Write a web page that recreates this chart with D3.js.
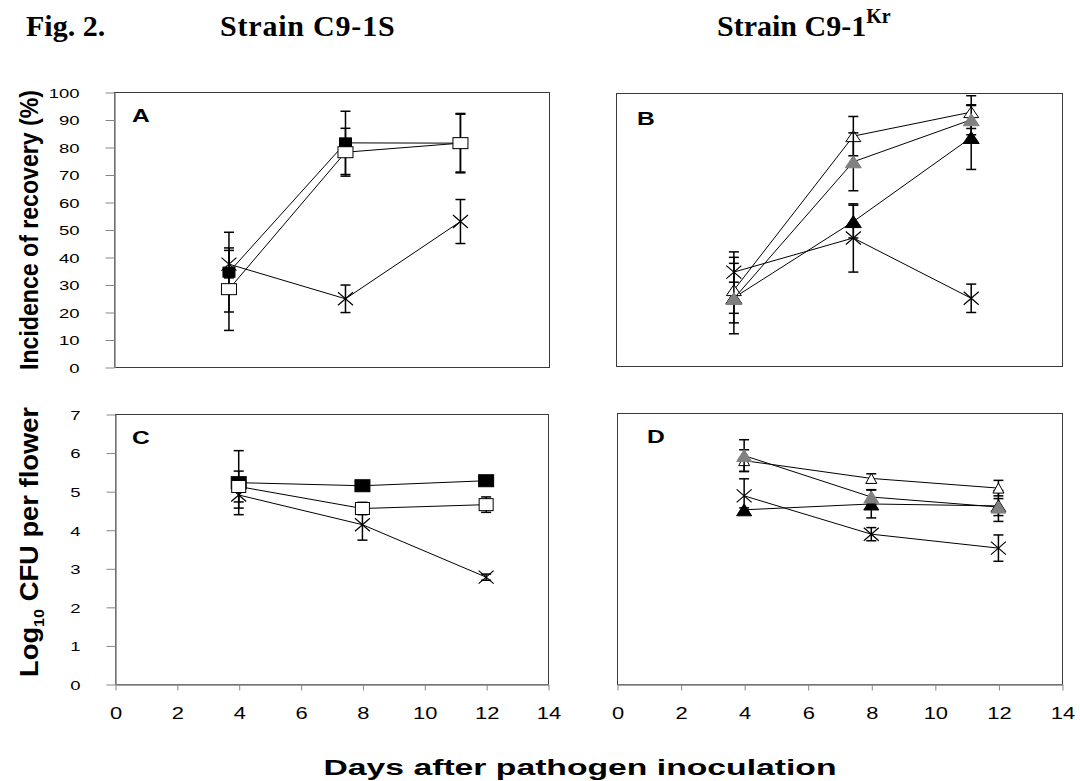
<!DOCTYPE html>
<html>
<head>
<meta charset="utf-8">
<script src="https://cdn.jsdelivr.net/npm/d3@7"></script>
<style>
  body { margin: 0; background: #fff; }
  text { fill: #000; }
</style>
</head>
<body>
<div id="chart"></div>
<script>
// days on the x axis (top panels are plotted slightly left of the sampling days)
const topDays = [3.7, 7.45, 11.15];
const bottomDays = [4, 8, 12];
const xTicks = [0, 2, 4, 6, 8, 10, 12, 14];
const pctTicks = [0, 10, 20, 30, 40, 50, 60, 70, 80, 90, 100];
const cfuTicks = [0, 1, 2, 3, 4, 5, 6, 7];

// Panel A - strain C9-1S, incidence of recovery (%)
const aCross = [37.4, 24.8, 52.9];
const aCrossErr = [5, 5, 8];
const aFilled = [34.5, 81.5, 81.4];
const aFilledErr = [14.5, 11.5, 10.8];
const aOpen = [28.3, 78.1, 81.4];
const aOpenErr = [15, 8.7, 10.5];

// Panel B - strain C9-1Kr, incidence of recovery (%)
const bCross = [34.4, 46.9, 24.8];
const bCrossErr = [7.4, 12.5, 5.2];
const bBlack = [25, 52.9, 83.7];
const bBlackErr = [5.7, 6, 11.7];
const bOpen = [27.8, 84.2, 93];
const bOpenErr = [12, 7.2, 6];
const bGray = [24.7, 74.8, 90.2];
const bGrayErr = [12.9, 10.6, 5.5];

// Panel C - strain C9-1S, log10 CFU per flower
const cCross = [4.9, 4.13, 2.77];
const cCrossErr = [0.34, 0.4, 0.08];
const cFilled = [5.22, 5.14, 5.27];
const cFilledErr = [0.83, 0.05, 0.05];
const cOpen = [5.12, 4.55, 4.65];
const cOpenErr = [0.4, 0.16, 0.2];

// Panel D - strain C9-1Kr, log10 CFU per flower
const dCross = [4.86, 3.87, 3.51];
const dCrossErr = [0.44, 0.17, 0.34];
const dBlack = [4.5, 4.65, 4.6];
const dBlackErr = [0.05, 0.36, 0.4];
const dOpen = [5.77, 5.31, 5.06];
const dOpenErr = [0.28, 0.12, 0.2];
const dGray = [5.9, 4.83, 4.57];
const dGrayErr = [0.41, 0.19, 0.22];

const width = 1080;
const height = 781;
const stretch = 1.37; // the original figure is stretched horizontally
const sans = 'Arial, "Liberation Sans", sans-serif';
const serif = '"Times New Roman", "Liberation Serif", serif';
const axisGray = '#868686';
const frameColor = '#3a3a3a';

const svg = d3.select('#chart').append('svg')
  .attr('width', width)
  .attr('height', height)
  .style('background', '#fff');

// marker shapes
function drawMarker(g, kind, cx, cy, w, h) {
  if (kind === 'cross') {
    g.append('path')
      .attr('d', `M${cx - w / 2},${cy - h / 2}L${cx + w / 2},${cy + h / 2}M${cx - w / 2},${cy + h / 2}L${cx + w / 2},${cy - h / 2}`)
      .attr('stroke', '#000').attr('stroke-width', 1.2).attr('fill', 'none');
  } else if (kind === 'sqFilled' || kind === 'sqOpen') {
    g.append('rect')
      .attr('x', cx - w / 2).attr('y', cy - h / 2)
      .attr('width', w).attr('height', h)
      .attr('fill', kind === 'sqFilled' ? '#000' : '#fff')
      .attr('stroke', '#000').attr('stroke-width', 1);
  } else {
    const fill = { triOpen: '#fff', triGray: '#808080', triBlack: '#000' }[kind];
    g.append('path')
      .attr('d', `M${cx},${cy - h / 2}L${cx + w / 2},${cy + h / 2}L${cx - w / 2},${cy + h / 2}Z`)
      .attr('fill', fill)
      .attr('stroke', kind === 'triGray' ? '#808080' : '#000')
      .attr('stroke-width', 1);
  }
}

function stretchedText(g, str, x, y, size, anchor, weight) {
  return g.append('text')
    .attr('transform', `translate(${x},${y}) scale(${stretch},1)`)
    .attr('text-anchor', anchor)
    .style('font-family', sans)
    .style('font-size', size + 'px')
    .style('font-weight', weight || 'normal')
    .text(str);
}

function drawPanel(cfg) {
  const { letter, letterPos, box, days, yMax, series, leftTicks, bottomTicks } = cfg;
  const x = d3.scaleLinear().domain([0, 14]).range([box.x0, box.x1]);
  const y = d3.scaleLinear().domain([0, yMax]).range([box.y1, box.y0]);
  const g = svg.append('g').attr('class', 'panel-' + letter);

  // frame
  g.append('rect')
    .attr('x', box.x0 + 0.5).attr('y', box.y0 + 0.5)
    .attr('width', box.x1 - box.x0).attr('height', box.y1 - box.y0)
    .attr('fill', 'none').attr('stroke', frameColor).attr('stroke-width', 1);

  if (leftTicks) {
    const ax = g.append('g')
      .attr('transform', `translate(${box.x0 + 0.5},0.5)`)
      .call(d3.axisLeft(y).tickValues(leftTicks).tickFormat(d3.format('d')).tickSize(9).tickSizeOuter(0));
    ax.select('.domain').attr('stroke', axisGray).attr('stroke-width', 1.5);
    ax.selectAll('.tick line').attr('stroke', axisGray);
    ax.selectAll('.tick text')
      .attr('x', 0).attr('dy', '0.36em')
      .attr('transform', `translate(-35,0) scale(${stretch},1)`)
      .attr('fill', '#000')
      .style('font-family', sans).style('font-size', '13.5px');
  }
  if (bottomTicks) {
    const ax = g.append('g')
      .attr('transform', `translate(0.5,${box.y1 + 0.5})`)
      .call(d3.axisBottom(x).tickValues(bottomTicks).tickFormat(d3.format('d')).tickSize(6).tickSizeOuter(0));
    ax.select('.domain').attr('stroke', axisGray).attr('stroke-width', 1.5);
    ax.selectAll('.tick line').attr('stroke', axisGray);
    ax.selectAll('.tick text')
      .attr('y', 0).attr('dy', null)
      .attr('transform', `translate(0,34) scale(${stretch},1)`)
      .attr('fill', '#000')
      .style('font-family', sans).style('font-size', '16px');
  }

  // panel letter
  stretchedText(g, letter, letterPos[0], letterPos[1], 18, 'start', 'bold');

  const line = d3.line().x(p => x(p.d)).y(p => y(p.v));

  series.forEach((s) => {
    const pts = s.values.map((v, i) => ({ d: days[i], v, e: s.err[i] }));
    const sg = g.append('g');
    sg.append('path')
      .attr('d', line(pts))
      .attr('fill', 'none').attr('stroke', '#000').attr('stroke-width', 1);

    pts.forEach((p) => {
      const px = x(p.d);
      const top = y(p.v + p.e);
      const bot = y(p.v - p.e);
      sg.append('line')
        .attr('x1', px).attr('x2', px).attr('y1', top).attr('y2', bot)
        .attr('stroke', '#000').attr('stroke-width', 1.5);
      [top, bot].forEach((yy) => {
        sg.append('line')
          .attr('x1', px - 5).attr('x2', px + 5).attr('y1', yy).attr('y2', yy)
          .attr('stroke', '#000').attr('stroke-width', 1.5);
      });
    });

    pts.forEach((p) => {
      drawMarker(sg, s.kind, x(p.d), y(p.v), s.size[0], s.size[1]);
    });
  });
}

drawPanel({
  letter: 'A',
  letterPos: [132, 122],
  box: { x0: 114, x1: 549, y0: 92, y1: 367 },
  days: topDays,
  yMax: 100,
  leftTicks: pctTicks,
  series: [
    { kind: 'cross', values: aCross, err: aCrossErr, size: [15, 13] },
    { kind: 'sqFilled', values: aFilled, err: aFilledErr, size: [12, 10] },
    { kind: 'sqOpen', values: aOpen, err: aOpenErr, size: [15, 11] },
  ],
});

drawPanel({
  letter: 'B',
  letterPos: [637, 125],
  box: { x0: 616, x1: 1062, y0: 93, y1: 366 },
  days: topDays,
  yMax: 100,
  series: [
    { kind: 'cross', values: bCross, err: bCrossErr, size: [15, 13] },
    { kind: 'triBlack', values: bBlack, err: bBlackErr, size: [16, 12] },
    { kind: 'triOpen', values: bOpen, err: bOpenErr, size: [15, 11] },
    { kind: 'triGray', values: bGray, err: bGrayErr, size: [16, 12] },
  ],
});

drawPanel({
  letter: 'C',
  letterPos: [132, 444],
  box: { x0: 115, x1: 548, y0: 414, y1: 684 },
  days: bottomDays,
  yMax: 7,
  leftTicks: cfuTicks,
  bottomTicks: xTicks,
  series: [
    { kind: 'cross', values: cCross, err: cCrossErr, size: [15, 13] },
    { kind: 'sqFilled', values: cFilled, err: cFilledErr, size: [15, 12] },
    { kind: 'sqOpen', values: cOpen, err: cOpenErr, size: [14, 12] },
  ],
});

drawPanel({
  letter: 'D',
  letterPos: [647, 443],
  box: { x0: 617, x1: 1062, y0: 413, y1: 684 },
  days: bottomDays,
  yMax: 7,
  bottomTicks: xTicks,
  series: [
    { kind: 'cross', values: dCross, err: dCrossErr, size: [15, 13] },
    { kind: 'triBlack', values: dBlack, err: dBlackErr, size: [15, 12] },
    { kind: 'triOpen', values: dOpen, err: dOpenErr, size: [11, 10] },
    { kind: 'triGray', values: dGray, err: dGrayErr, size: [15, 12] },
  ],
});

// figure titles
const titles = svg.append('g')
  .style('font-family', serif)
  .style('font-weight', 'bold')
  .style('font-size', '30px');
titles.append('text').attr('x', 26).attr('y', 36).text('Fig. 2.');
titles.append('text').attr('x', 220).attr('y', 36).style('letter-spacing', '0.8px').text('Strain C9-1S');
const kr = titles.append('text').attr('x', 717).attr('y', 36).text('Strain C9-1');
kr.append('tspan').attr('dy', -13).style('font-size', '20px').text('Kr');

// y axis titles (rotated, stretched like the rest of the figure)
function rotatedTitle(cx, cy, len) {
  return svg.append('text')
    .attr('transform', `translate(${cx},${cy}) scale(1.15,1) rotate(-90)`)
    .attr('text-anchor', 'middle')
    .attr('textLength', len)
    .attr('lengthAdjust', 'spacingAndGlyphs')
    .style('font-family', sans)
    .style('font-weight', 'bold')
    .style('font-size', '22px');
}
rotatedTitle(38, 230, 280).text('Incidence of recovery (%)');
const logTitle = rotatedTitle(38, 542, 270);
logTitle.append('tspan').text('Log');
logTitle.append('tspan').attr('dy', 5).style('font-size', '13px').text('10');
logTitle.append('tspan').attr('dy', -5).text(' CFU per flower');

// x axis title
svg.append('text')
  .attr('x', 580).attr('y', 775)
  .attr('text-anchor', 'middle')
  .attr('textLength', 513)
  .attr('lengthAdjust', 'spacingAndGlyphs')
  .style('font-family', sans)
  .style('font-weight', 'bold')
  .style('font-size', '22px')
  .text('Days after pathogen inoculation');
</script>
</body>
</html>
